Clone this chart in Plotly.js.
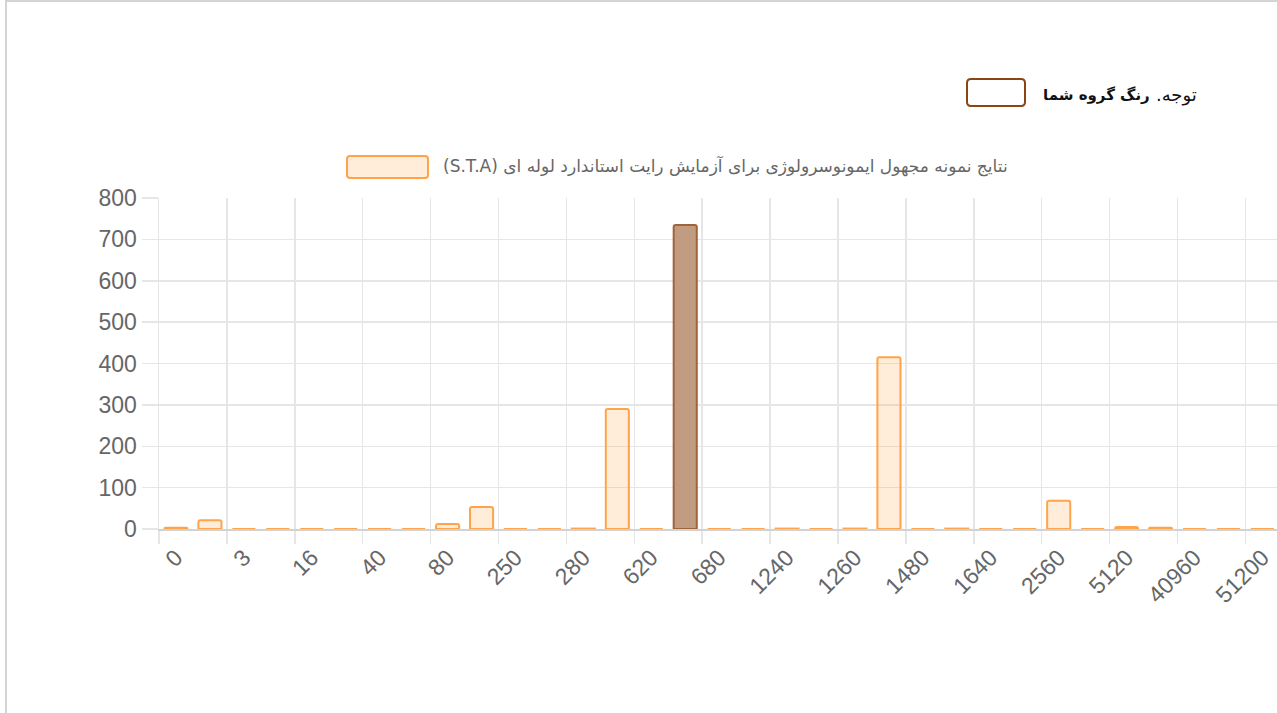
<!DOCTYPE html>
<html>
<head>
<meta charset="utf-8">
<script src="https://cdn.plot.ly/plotly-3.0.1.min.js"></script>
<style>
  html, body { margin: 0; padding: 0; background: #fff; }
  #wrap { position: relative; width: 1277px; height: 713px; overflow: hidden; }
  #chart { position: absolute; left: 0; top: 0; width: 1277px; height: 713px; }
  #frame { position: absolute; left: 5px; top: 0; width: 1290px; height: 720px;
           border-left: 2px solid #d4d4d4; border-top: 2px solid #d4d4d4; pointer-events: none; }
  #chart .annotation-text { direction: rtl; unicode-bidi: embed; }
</style>
</head>
<body>
<div id="wrap">
  <div id="chart"></div>
  <div id="frame"></div>
</div>
<script>
// ---- data ----
const tickLabels = ["0","3","16","40","80","250","280","620","680","1240","1260","1480","1640","2560","5120","40960","51200"];
const values = [3, 21, 0, 0, 0, 0, 0, 0, 12, 53, 0, 0, 1, 290, 0, 735, 0, 0, 1, 0, 1, 415, 0, 1, 0, 0, 68, 0, 5, 3, 0, 0, 0];
const groupIndex = 15;   // the highlighted ("your group") bar
const seriesName = "نتایج نمونه مجهول ایمونوسرولوژی برای آزمایش رایت استاندارد لوله ای (S.T.A)";
const noteLead = "توجه.";
const noteBold = "رنگ گروه شما";

// ---- styling ----
const orangeFill = "rgba(255,159,64,0.2)";
const orangeLine = "rgba(255,159,64,0.95)";
const brownFill = "#c29c80";
const brownLine = "#a0643a";
const gridC = "#e6e6e6";

const xIdx = values.map((v, i) => i);
const fills = values.map((v, i) => i === groupIndex ? brownFill : orangeFill);
const lines = values.map((v, i) => i === groupIndex ? brownLine : orangeLine);
const tickPos = tickLabels.map((t, i) => 2 * i);
const gridPos = tickPos.map(v => v - 0.5);

// pixel -> paper helpers (plot area: x 159..1277, y 198..529)
const PL = 159, PR = 1277, PT = 198, PB = 529;
const px = x => (x - PL) / (PR - PL);
const py = y => (PB - y) / (PB - PT);
function roundRect(x0, y0, x1, y1, r) {
  const P = (x, y) => px(x) + "," + py(y);
  return "M" + P(x0 + r, y0) + " L" + P(x1 - r, y0) + " Q" + P(x1, y0) + " " + P(x1, y0 + r) +
         " L" + P(x1, y1 - r) + " Q" + P(x1, y1) + " " + P(x1 - r, y1) +
         " L" + P(x0 + r, y1) + " Q" + P(x0, y1) + " " + P(x0, y1 - r) +
         " L" + P(x0, y0 + r) + " Q" + P(x0, y0) + " " + P(x0 + r, y0) + " Z";
}

const trace = {
  type: "bar",
  x: xIdx,
  y: values,
  width: 0.68,
  marker: { color: fills, line: { color: lines, width: 2 }, cornerradius: 2 },
  hoverinfo: "none"
};

const tickFont = { family: "Liberation Sans, Arial, Helvetica, sans-serif", size: 23, color: "#666" };

const layout = {
  width: 1277, height: 713,
  margin: { l: PL, r: 0, t: PT, b: 713 - PB, pad: 0 },
  paper_bgcolor: "rgba(0,0,0,0)",
  plot_bgcolor: "rgba(0,0,0,0)",
  showlegend: false,
  bargap: 0,
  xaxis: {
    range: [-0.5, 32.43],
    tickmode: "array", tickvals: tickPos, ticktext: tickLabels,
    tickangle: -45,
    ticks: "outside", ticklen: 4, tickcolor: "rgba(0,0,0,0)",
    tickfont: tickFont,
    showgrid: false, zeroline: false,
    showline: true, linecolor: "#d2d2d2", linewidth: 2,
    automargin: false, fixedrange: true,
    minor: { tickmode: "array", tickvals: gridPos, showgrid: true, gridcolor: gridC, gridwidth: 1.5,
             ticks: "outside", ticklen: 13, tickcolor: gridC, tickwidth: 1.5 }
  },
  yaxis: {
    range: [0, 800], tickmode: "linear", tick0: 0, dtick: 100,
    ticks: "outside", ticklen: 16, tickcolor: gridC, tickwidth: 1.5,
    tickfont: { family: tickFont.family, size: 23, color: "#666" },
    showgrid: true, gridcolor: gridC, gridwidth: 1.5,
    showline: true, linecolor: gridC, linewidth: 1.5,
    zeroline: false, automargin: false, fixedrange: true
  },
  shapes: [
    { type: "path", xref: "paper", yref: "paper", path: roundRect(347, 156, 428, 178, 3),
      fillcolor: orangeFill, line: { color: orangeLine, width: 2 } },
    { type: "path", xref: "paper", yref: "paper", path: roundRect(967, 79, 1025, 106, 4),
      fillcolor: "#ffffff", line: { color: "#8b4513", width: 2 } }
  ],
  annotations: [
    { xref: "paper", yref: "paper", x: px(1010), y: py(166), xanchor: "right", yanchor: "middle",
      text: seriesName, showarrow: false,
      font: { family: "DejaVu Sans, sans-serif", size: 17, color: "#666" } },
    { xref: "paper", yref: "paper", x: px(1199), y: py(95), xanchor: "right", yanchor: "middle",
      text: noteLead, showarrow: false,
      font: { family: "DejaVu Sans, sans-serif", size: 18, color: "#111" } },
    { xref: "paper", yref: "paper", x: px(1152), y: py(95), xanchor: "right", yanchor: "middle",
      text: "<b>" + noteBold + "</b>", showarrow: false,
      font: { family: "DejaVu Sans, sans-serif", size: 15, color: "#111" } }
  ]
};

Plotly.newPlot("chart", [trace], layout, { staticPlot: true, displayModeBar: false });
</script>
</body>
</html>
